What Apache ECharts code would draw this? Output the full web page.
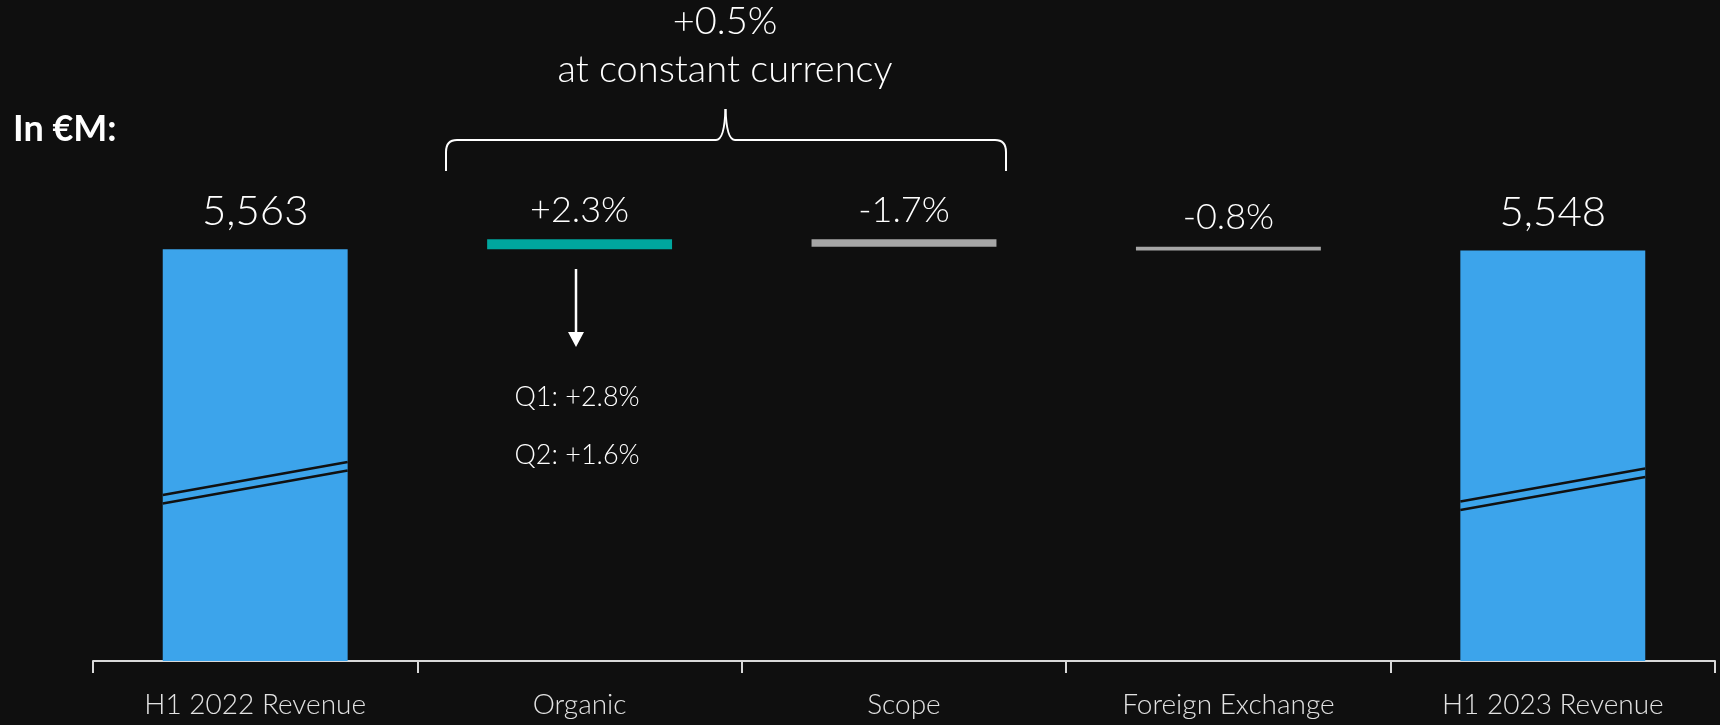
<!DOCTYPE html>
<html>
<head>
<meta charset="utf-8">
<script src="https://cdn.jsdelivr.net/npm/echarts@6/dist/echarts.min.js"></script>
<style>
  html, body { margin: 0; padding: 0; background: #0f0f0f; }
  #chart { width: 1720px; height: 725px; }
</style>
</head>
<body>
<div id="chart"></div>
<script>
// ---- data ----
const categories = ['H1 2022 Revenue', 'Organic', 'Scope', 'Foreign Exchange', 'H1 2023 Revenue'];
const totals = [5563, null, null, null, 5548];          // €M
const deltas = [null, 128, -95, -48, null];              // €M change per bridge step
const totalLabels = ['5,563', '', '', '', '5,548'];
const pctLabels = ['', '+2.3%', '-1.7%', '-0.8%', ''];
const deltaColors = [null, '#00a69e', '#a6a6a6', '#a6a6a6', null];
const breakValues = [2573, 2490];                        // where the axis-break marks sit on the total bars

// ---- build waterfall ----
const baseData = [], deltaData = [], totalData = [];
let level = 0;
for (let i = 0; i < categories.length; i++) {
  if (totals[i] !== null) {
    level = totals[i];
    baseData.push('-'); deltaData.push('-');
    totalData.push(totals[i]);
  } else {
    const d = deltas[i];
    const lo = d >= 0 ? level : level + d;
    baseData.push(lo);
    deltaData.push({ value: Math.abs(d), itemStyle: { color: deltaColors[i] } });
    totalData.push('-');
    level += d;
  }
}

const FONT = 'Lato';
const chart = echarts.init(document.getElementById('chart'));
chart.setOption({
  backgroundColor: '#0f0f0f',
  animation: false,
  grid: { left: 93, right: 5, top: 137, bottom: 64, containLabel: false },
  xAxis: {
    type: 'category',
    data: categories,
    boundaryGap: true,
    axisLine: { lineStyle: { color: '#d9d9d9', width: 2 } },
    axisTick: { show: true, length: 12, lineStyle: { color: '#d9d9d9', width: 2 } },
    axisLabel: { color: '#e2e2e2', fontFamily: FONT, fontWeight: 300, fontSize: 28, margin: 30 }
  },
  yAxis: { type: 'value', min: 290, max: 7000, show: false, splitLine: { show: false } },
  series: [
    {
      name: 'base', type: 'bar', stack: 'w', barWidth: '57%',
      itemStyle: { color: 'transparent' }, data: baseData, silent: true
    },
    {
      name: 'delta', type: 'bar', stack: 'w', barWidth: '57%',
      data: deltaData,
      label: {
        show: true, position: 'top', distance: 11,
        color: '#ffffff', fontFamily: FONT, fontWeight: 300, fontSize: 36,
        formatter: p => pctLabels[p.dataIndex]
      }
    },
    {
      name: 'total', type: 'bar', barWidth: '57%', barGap: '-100%',
      itemStyle: { color: '#3ca4eb' },
      data: totalData,
      label: {
        show: true, position: 'top', distance: 17,
        color: '#ffffff', fontFamily: FONT, fontWeight: 300, fontSize: 42,
        formatter: p => totalLabels[p.dataIndex]
      }
    }
  ]
});

// ---- decorations: axis-break marks, brace, arrow, notes ----
const g = [];
const p0 = chart.convertToPixel({ gridIndex: 0 }, [0, 0]);
const p1 = chart.convertToPixel({ gridIndex: 0 }, [1, 0]);
const halfBar = (p1[0] - p0[0]) * 0.57 / 2;
let bi = 0;
for (let i = 0; i < categories.length; i++) {
  if (totals[i] === null) continue;
  const c = chart.convertToPixel({ gridIndex: 0 }, [i, breakValues[bi++]]);
  [-4.2, 4.2].forEach(off => {
    g.push({
      type: 'line', z: 100,
      shape: { x1: c[0] - halfBar, y1: c[1] + 16.5 + off, x2: c[0] + halfBar, y2: c[1] - 16.5 + off },
      style: { stroke: '#111111', lineWidth: 2.5 }
    });
  });
}
// brace
const braceStyle = { stroke: '#ffffff', lineWidth: 2, fill: null };
const ln = (x1, y1, x2, y2) => ({ type: 'line', z: 100, shape: { x1, y1, x2, y2 }, style: braceStyle });
const qc = (x1, y1, cpx1, cpy1, x2, y2) => ({ type: 'bezierCurve', z: 100, shape: { x1, y1, cpx1, cpy1, x2, y2 }, style: braceStyle });
g.push(ln(446, 171, 446, 152));
g.push(qc(446, 152, 446, 140, 457, 140));
g.push(ln(457, 140, 716, 140));
g.push(qc(716, 140, 724.5, 140, 725.5, 109));
g.push(qc(725.5, 109, 726.5, 140, 735, 140));
g.push(ln(735, 140, 995, 140));
g.push(qc(995, 140, 1006, 140, 1006, 152));
g.push(ln(1006, 152, 1006, 171));
// arrow
g.push({ type: 'line', z: 100, shape: { x1: 576, y1: 269, x2: 576, y2: 334 }, style: { stroke: '#ffffff', lineWidth: 2.5 } });
g.push({ type: 'polygon', z: 100, shape: { points: [[568, 332], [584, 332], [576, 347]] }, style: { fill: '#ffffff' } });
// texts
const txt = (x, y, text, size, weight, align) => ({
  type: 'text', z: 100, x, y,
  style: { text, fill: '#ffffff', font: `${weight} ${size}px ${FONT}`, align: align || 'center', verticalAlign: 'middle' }
});
g.push(txt(13, 129, 'In €M:', 36, 700, 'left'));
g.push(txt(725, 22, '+0.5%', 38, 300));
g.push(txt(725, 70, 'at constant currency', 38, 300));
g.push(txt(577, 397, 'Q1: +2.8%', 27, 300));
g.push(txt(577, 455, 'Q2: +1.6%', 27, 300));
chart.setOption({ graphic: { elements: g } });
</script>
</body>
</html>
